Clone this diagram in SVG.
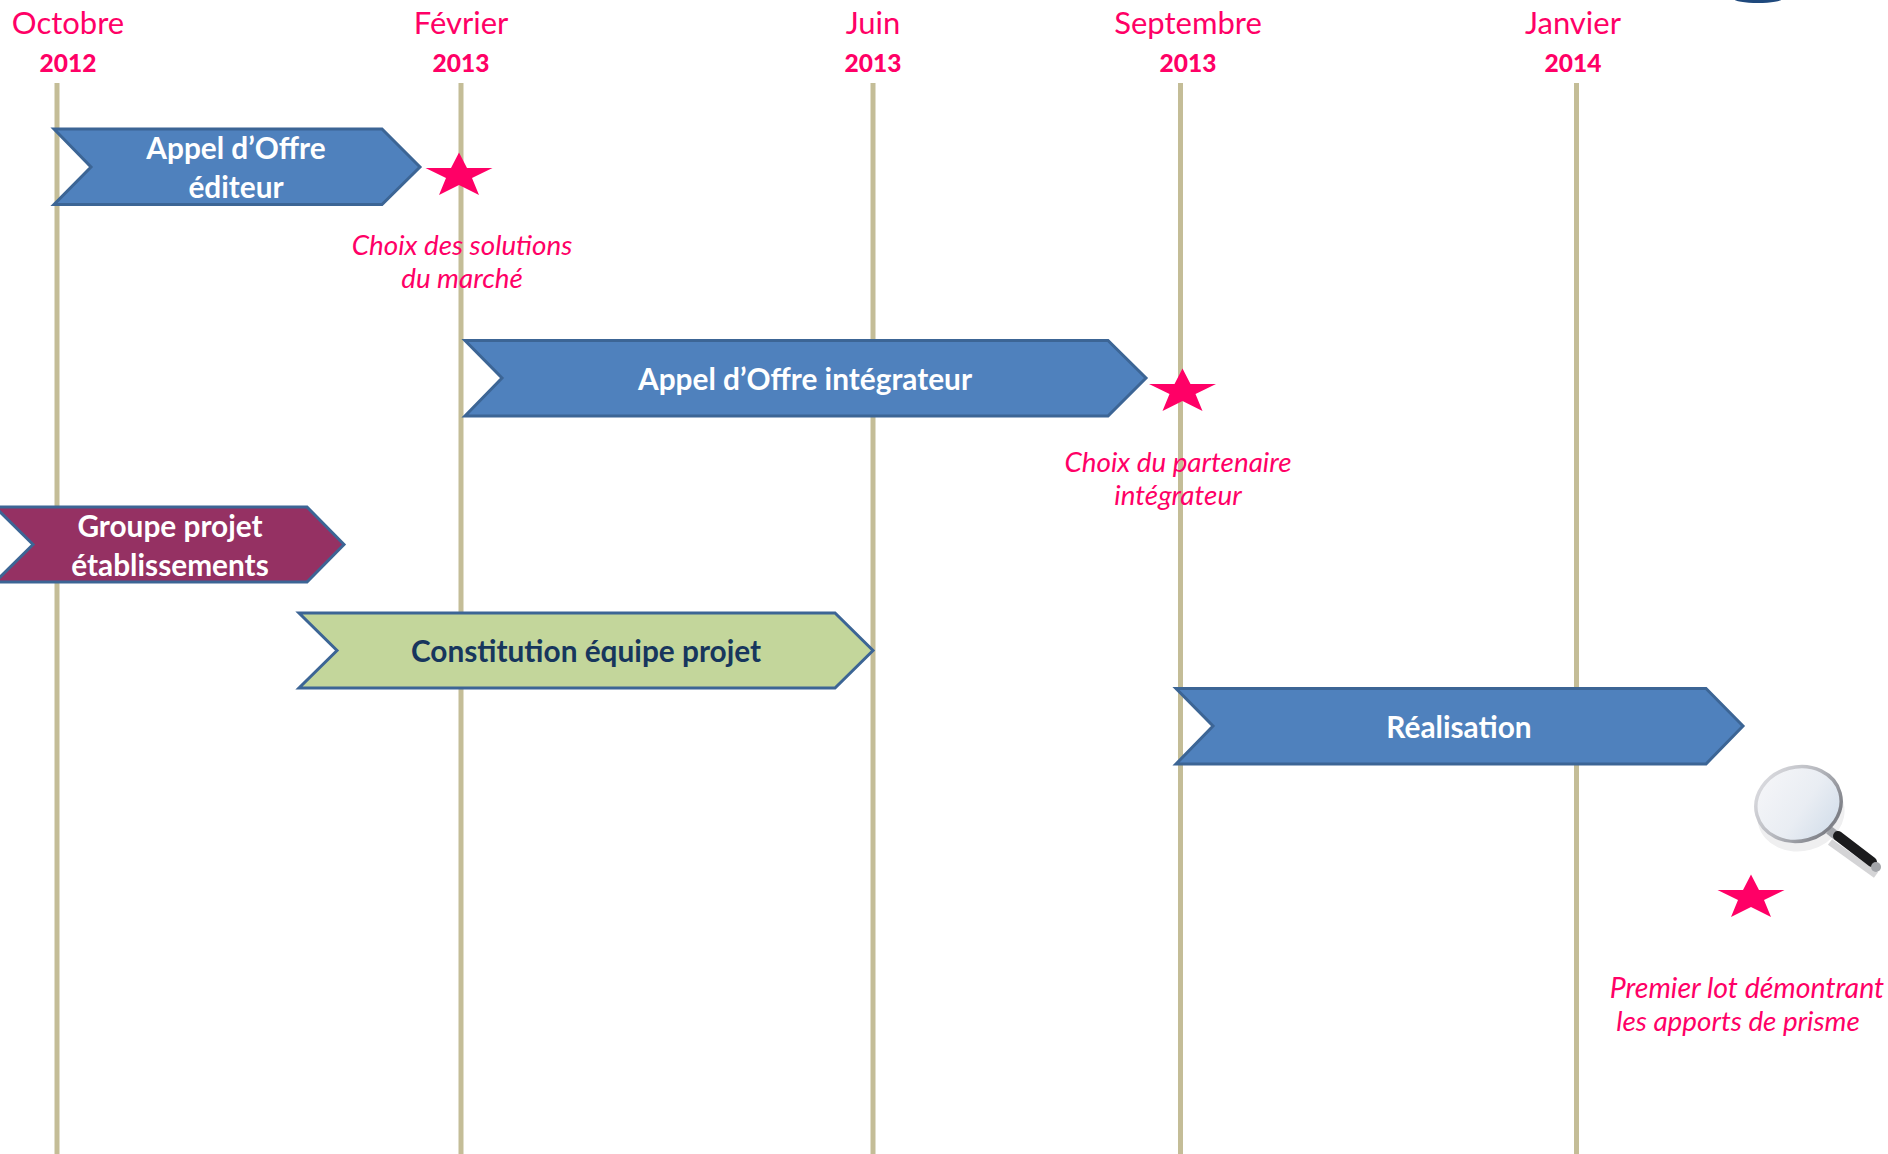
<svg xmlns="http://www.w3.org/2000/svg" width="1888" height="1154" viewBox="0 0 1888 1154">
<style>
.axis{stroke:#c4bd97;stroke-width:5;fill:none}
.chev{stroke:#3c6595;stroke-width:3;stroke-linejoin:miter}
.blue{fill:#4f81bd}.plum{fill:#953163}.green{fill:#c3d69b}
text{font-family:Lato,"Liberation Sans",sans-serif;text-anchor:middle}
.month{font-size:31px;fill:#ff0066}
.year{font-size:24.500px;font-weight:900;fill:#ff0066}
.lab{font-size:29.800px;font-weight:700;fill:#fff}
.dark{fill:#17365d}
.note{font-size:27.800px;font-style:italic;fill:#ff0066}
.note.wide{font-size:28.500px}
.star{fill:#ff0066}
</style>
<defs>
<polygon id="st" points="0,-15.500 8,0 33.500,0 13,10 20,27 0,17 -20,27 -13,10 -33.500,0 -8,0"/>
<linearGradient id="glass" x1="0" y1="0" x2="1" y2="1"><stop offset="0" stop-color="#f7f7f9"/><stop offset="0.55" stop-color="#e9edf3"/><stop offset="1" stop-color="#cddae8"/></linearGradient>
<linearGradient id="rim" x1="0" y1="0" x2="1" y2="1"><stop offset="0" stop-color="#e4e4e8"/><stop offset="0.5" stop-color="#b4b6bc"/><stop offset="0.85" stop-color="#7d7f86"/><stop offset="1" stop-color="#c9cace"/></linearGradient>
</defs>
<g id="axes">
<line class="axis" x1="57" y1="83" x2="57" y2="1154"/>
<line class="axis" x1="461" y1="83" x2="461" y2="1154"/>
<line class="axis" x1="873" y1="83" x2="873" y2="1154"/>
<line class="axis" x1="1180.500" y1="83" x2="1180.500" y2="1154"/>
<line class="axis" x1="1576.500" y1="83" x2="1576.500" y2="1154"/>
</g>
<g id="dates">
<text class="month" x="68" y="34">Octobre</text><text class="year" x="68" y="72">2012</text>
<text class="month" x="461" y="34">Février</text><text class="year" x="461" y="72">2013</text>
<text class="month" x="873" y="34">Juin</text><text class="year" x="873" y="72">2013</text>
<text class="month" x="1188" y="34">Septembre</text><text class="year" x="1188" y="72">2013</text>
<text class="month" x="1573" y="34">Janvier</text><text class="year" x="1573" y="72">2014</text>
</g>
<g id="n1"><polygon class="chev blue" points="54,129 382,129 420,167 382,204.500 54,204.500 91,167"/><text class="lab" x="236" y="159">Appel d’Offre</text><text class="lab" x="236" y="198">éditeur</text></g>
<g id="n2"><polygon class="chev blue" points="465,340.500 1108,340.500 1146,378 1108,416 465,416 502,378"/><text class="lab" x="805" y="390">Appel d’Offre intégrateur</text></g>
<g id="n3"><polygon class="chev plum" points="-5,507 307,507 344,544.500 307,582 -5,582 33,544.500"/><text class="lab" x="170" y="537">Groupe projet</text><text class="lab" x="170" y="576">établissements</text></g>
<g id="n4"><polygon class="chev green" points="299,613 835,613 873,650.500 835,688 299,688 337,650.500"/><text class="lab dark" x="586" y="662">Constitution équipe projet</text></g>
<g id="n5"><polygon class="chev blue" points="1176,688.500 1706,688.500 1743,726 1706,764 1176,764 1213,726"/><text class="lab" x="1459" y="738">Réalisation</text></g>
<g id="m1"><use href="#st" class="star" x="459" y="168"/><text class="note" x="462" y="255">Choix des solutions</text><text class="note" x="462" y="288">du marché</text></g>
<g id="m2"><use href="#st" class="star" x="1182.500" y="384"/><text class="note" x="1178" y="472">Choix du partenaire</text><text class="note" x="1178" y="505">intégrateur</text></g>
<g id="m3"><use href="#st" class="star" x="1751" y="890"/><text class="note wide" x="1747" y="998">Premier lot démontrant</text><text class="note" x="1738" y="1031">les apports de prisme</text></g>
<g id="magnifier">
<ellipse cx="1801" cy="814" rx="44" ry="37" fill="#efeff0" transform="rotate(-15 1801 814)"/>
<line x1="1830" y1="842" x2="1876" y2="875" stroke="#d4d4d6" stroke-width="7"/>
<line x1="1829" y1="830" x2="1838" y2="837" stroke="#a3a5aa" stroke-width="9"/>
<line x1="1838" y1="836" x2="1872" y2="862" stroke="#1b1b1d" stroke-width="10" stroke-linecap="round"/>
<circle cx="1876" cy="867" r="5" fill="#a3a5aa"/>
<ellipse cx="1798.500" cy="804" rx="43" ry="37" fill="url(#glass)" stroke="url(#rim)" stroke-width="3.500" transform="rotate(-15 1798.500 804)"/>
</g>
<ellipse id="top-fragment" cx="1758" cy="-1" rx="24" ry="4" fill="#1f497d"/>
</svg>
